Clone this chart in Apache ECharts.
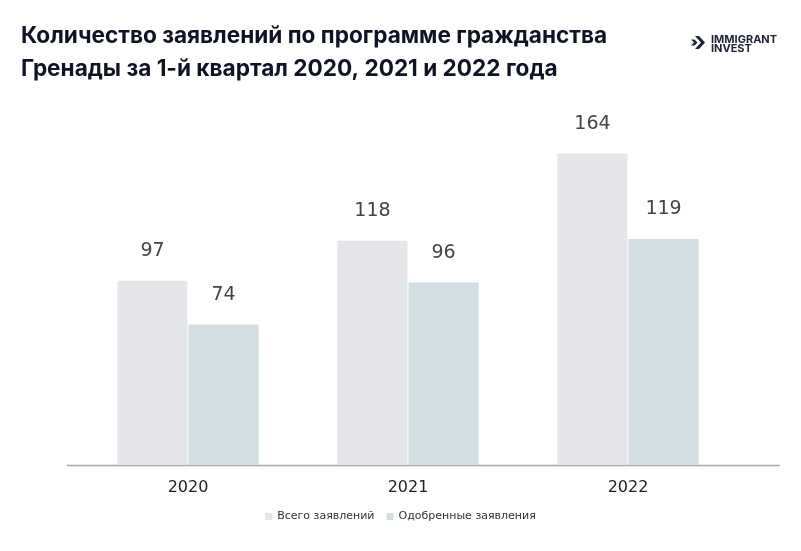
<!DOCTYPE html>
<html><head><meta charset="utf-8">
<script src="https://cdn.jsdelivr.net/npm/echarts@6/dist/echarts.min.js"></script>
<style>html,body{margin:0;padding:0;background:#fff}#c{width:801px;height:551px}</style>
</head><body><div id="c"></div>
<script>
const categories = ['2020', '2021', '2022'];
const totalApps = [97, 118, 164];
const approvedApps = [74, 96, 119];
const seriesNames = ['Всего заявлений', 'Одобренные заявления'];
const titleLines = ['Количество заявлений по программе гражданства', 'Гренады за 1-й квартал 2020, 2021 и 2022 года'];

const chart = echarts.init(document.getElementById('c'));
const labelStyle = {show: true, position: 'top', distance: 20, fontSize: 19, color: '#444', fontFamily: 'DejaVu Sans'};
chart.setOption({
  animation: false,
  title: {
    text: titleLines.join('\n'), left: 16, top: 15,
    textStyle: {fontFamily: 'Inter', fontWeight: 'bold', fontSize: 22.6, lineHeight: 33, color: '#0f1424'}
  },
  legend: {
    bottom: 24, left: 'center', itemWidth: 7, itemHeight: 7, itemGap: 12,
    icon: 'rect',
    textStyle: {fontFamily: 'DejaVu Sans', fontSize: 11, color: '#333'},
    data: seriesNames
  },
  grid: {left: 78, right: 63, top: 85, height: 380},
  xAxis: {
    type: 'category', data: categories,
    axisLine: {show: false}, axisTick: {show: false},
    axisLabel: {fontFamily: 'DejaVu Sans', fontSize: 16, color: '#222', margin: 15}
  },
  yAxis: {type: 'value', min: 0, max: 200, show: false, splitLine: {show: false}},
  series: [
    {name: seriesNames[0], type: 'bar', data: totalApps, barWidth: 70, barGap: '1.5%',
     itemStyle: {color: '#e5e6ea'}, label: labelStyle},
    {name: seriesNames[1], type: 'bar', data: approvedApps, barWidth: 70,
     itemStyle: {color: '#d3dee3'}, label: labelStyle}
  ],
  graphic: [
    {type: 'line', shape: {x1: 67, y1: 465.5, x2: 780, y2: 465.5}, style: {stroke: '#a9a9a9', lineWidth: 1.5}},
    {type: 'polygon', shape: {points: [[695,36],[699,36],[705,42.5],[699,49],[695,49],[701,42.5]]}, style: {fill: '#1c2233'}},
    {type: 'polygon', shape: {points: [[691,39.5],[694.5,39.5],[697.5,42.5],[694.5,45.5],[691,45.5],[694,42.5]]}, style: {fill: '#1c2233'}},
    {type: 'text', left: 711, top: 34, style: {text: 'IMMIGRANT\nINVEST', fontFamily: 'Inter', fontWeight: 'bold', fontSize: 11, lineHeight: 9.5, fill: '#1c2233'}}
  ]
});
</script></body></html>
